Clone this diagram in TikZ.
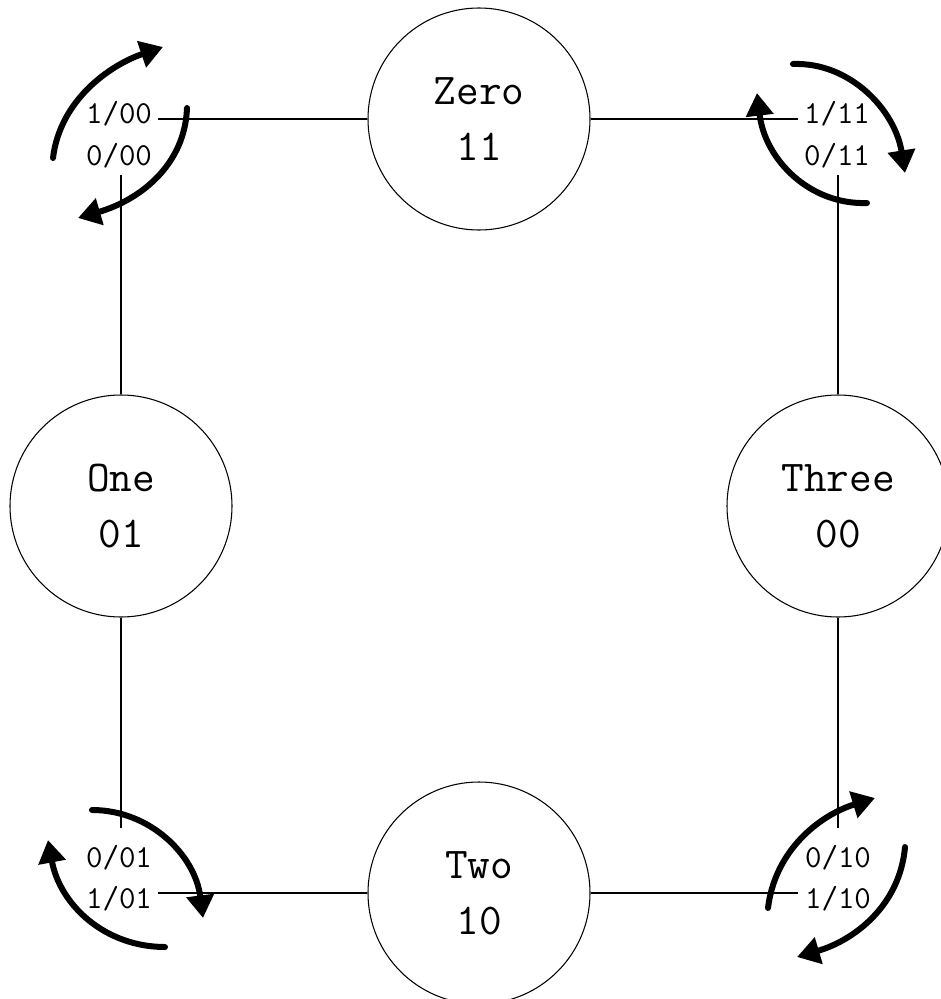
\documentclass[tikz,border=0pt]{standalone}
\usetikzlibrary{arrows.meta}
\begin{document}
\begin{tikzpicture}[x=0.75pt,y=-0.75pt,
  state/.style={circle,draw,line width=0.8pt,minimum size=166.5pt,inner sep=0pt,
    align=center,font=\ttfamily\fontsize{33}{42}\selectfont},
  lbl/.style={anchor=base,inner sep=0pt,font=\ttfamily\fontsize{24}{30}\selectfont},
  wire/.style={line width=1.1pt},
  loop/.style={line width=4.5pt,line cap=round,-{Triangle[length=17pt,width=20pt]}}]
\useasboundingbox (0,0) rectangle (940,999);
% states
\node[state] (zero)  at (479,119) {Zero\\11};
\node[state] (one)   at (121,506) {One\\01};
\node[state] (three) at (838,506) {Three\\00};
\node[state] (two)   at (479,893) {Two\\10};
% labels
\node[lbl] (tla) at (119,123) {1/00};
\node[lbl] (tlb) at (119,165) {0/00};
\node[lbl] (tra) at (837,123) {1/11};
\node[lbl] (trb) at (837,165) {0/11};
\node[lbl] (bla) at (119,867) {0/01};
\node[lbl] (blb) at (119,908) {1/01};
\node[lbl] (bra) at (838,867) {0/10};
\node[lbl] (brb) at (838,908) {1/10};
% wire ends
\coordinate (tlh) at (158,119);
\coordinate (tlv) at (121,175);
\coordinate (trh) at (798,119);
\coordinate (trv) at (838,175);
\coordinate (blv) at (121,828);
\coordinate (blh) at (158,893);
\coordinate (brh) at (798,893);
\coordinate (brv) at (838,828);
% wires
\draw[wire] (tlh) -- (zero.west);
\draw[wire] (tlv) -- (one.north);
\draw[wire] (zero.east) -- (trh);
\draw[wire] (trv) -- (three.north);
\draw[wire] (one.south) -- (blv);
\draw[wire] (blh) -- (two.west);
\draw[wire] (two.east) -- (brh);
\draw[wire] (three.south) -- (brv);
% self loops
\draw[loop] (53,158) .. controls (60,100) and (110,65) .. (163,47);
\draw[loop] (187,108) .. controls (185,165) and (140,200) .. (78,218);
\draw[loop] (793,64) .. controls (850,62) and (895,110) .. (905,173);
\draw[loop] (867,203) .. controls (810,205) and (765,160) .. (757,93);
\draw[loop] (92,810) .. controls (150,810) and (195,855) .. (203,918);
\draw[loop] (165,947) .. controls (105,947) and (60,905) .. (48,840);
\draw[loop] (768,908) .. controls (775,850) and (820,815) .. (875,798);
\draw[loop] (905,847) .. controls (900,905) and (855,940) .. (797,957);
\end{tikzpicture}
\end{document}
